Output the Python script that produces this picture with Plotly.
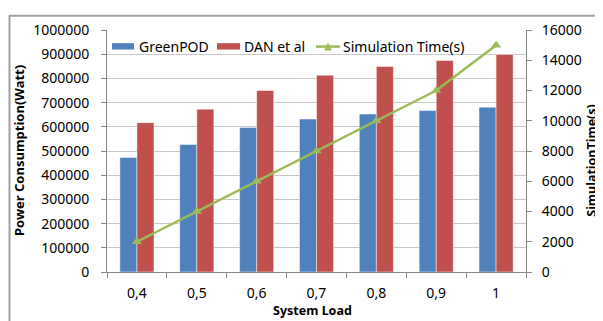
import plotly.graph_objects as go

categories = ["0,4", "0,5", "0,6", "0,7", "0,8", "0,9", "1"]
greenpod = [473000, 527000, 597000, 632000, 653000, 667000, 681000]
dan_et_al = [617000, 673000, 750000, 813000, 849000, 874000, 899000]
sim_time = [2000, 4000, 6000, 8000, 10000, 12000, 15000]
left_ticks = [0, 100000, 200000, 300000, 400000, 500000, 600000, 700000, 800000, 900000, 1000000]
right_ticks = [0, 2000, 4000, 6000, 8000, 10000, 12000, 14000, 16000]
series_names = ["GreenPOD", "DAN et al", "Simulation Time(s)"]

FONT = "Noto Sans"
BLUE = "#4F81BD"
RED = "#C0504D"
GREEN = "#9BBB59"
AXIS = "#868686"
GRID = "#c8c8c8"

# page offset of the figure div (default body margin)
OFF = 8
W, H = 603 - OFF, 321 - OFF
L, T = 107 - OFF, 24 - OFF
PW, PH = 419, 248
R = W - L - PW
B = H - T - PH


def px(x):  # page pixel x -> paper
    return (x - OFF - L) / PW


def py(y):  # page pixel y -> paper
    return (T + PH - (y - OFF)) / PH


fig = go.Figure()
fig.add_trace(go.Bar(x=categories, y=greenpod, name=series_names[0],
                     marker=dict(color=BLUE, line=dict(color="rgba(255,255,255,0.6)", width=0.8))))
fig.add_trace(go.Bar(x=categories, y=dan_et_al, name=series_names[1],
                     marker=dict(color=RED, line=dict(color="rgba(255,255,255,0.6)", width=0.8))))
fig.add_trace(go.Scatter(x=categories, y=sim_time, name=series_names[2], yaxis="y2",
                         mode="lines+markers",
                         line=dict(color=GREEN, width=2.5),
                         marker=dict(symbol="triangle-up", size=9, color=GREEN)))

fig.update_layout(
    width=W, height=H,
    margin=dict(l=L, r=R, t=T, b=B),
    paper_bgcolor="white", plot_bgcolor="white",
    font=dict(family=FONT, size=14, color="#000000"),
    barmode="group", bargap=0.43, bargroupgap=0,
    showlegend=False,
    xaxis=dict(type="category", showline=True, linecolor=AXIS, linewidth=1,
               ticks="outside", ticklen=5, tickcolor=AXIS, tickson="boundaries",
               ticklabelstandoff=8, showgrid=False, zeroline=False,
               range=[-0.5, 6.5]),
    yaxis=dict(range=[0, 1000000], tickvals=left_ticks,
               ticktext=[str(v) for v in left_ticks],
               showline=True, linecolor=AXIS, linewidth=1,
               ticks="outside", ticklen=5, tickcolor=AXIS, ticklabelstandoff=9,
               showgrid=True, gridcolor=GRID, gridwidth=1, zeroline=False),
    yaxis2=dict(range=[0, 16000], tickvals=right_ticks,
                ticktext=[str(v) for v in right_ticks],
                overlaying="y", side="right",
                showline=True, linecolor=AXIS, linewidth=1,
                ticks="outside", ticklen=5, tickcolor=AXIS, ticklabelstandoff=7,
                showgrid=False, zeroline=False),
)

# axis titles
fig.add_annotation(text="<b>Power Consumption(Watt)</b>", textangle=-90,
                   xref="paper", yref="paper", x=px(19), y=py(148),
                   xanchor="center", yanchor="middle", showarrow=False,
                   font=dict(family=FONT, size=13))
fig.add_annotation(text="<b>SimulationTime(s)</b>", textangle=-90,
                   xref="paper", yref="paper", x=px(592), y=py(158),
                   xanchor="center", yanchor="middle", showarrow=False,
                   font=dict(family=FONT, size=12.5))
fig.add_annotation(text="<b>System Load</b>",
                   xref="paper", yref="paper", x=px(312), y=py(311),
                   xanchor="center", yanchor="middle", showarrow=False,
                   font=dict(family=FONT, size=12.5))

# custom legend (Excel style)
leg_y = 41
fig.add_shape(type="rect", xref="paper", yref="paper",
              x0=px(112), x1=px(134), y0=py(44), y1=py(37.5),
              fillcolor=BLUE, line=dict(width=0))
fig.add_shape(type="rect", xref="paper", yref="paper",
              x0=px(217), x1=px(240), y0=py(44), y1=py(37.5),
              fillcolor=RED, line=dict(width=0))
fig.add_shape(type="line", xref="paper", yref="paper",
              x0=px(316), x1=px(340), y0=py(leg_y), y1=py(leg_y),
              line=dict(color=GREEN, width=2.5))
fig.add_shape(type="path", xref="paper", yref="paper",
              path=f"M {px(324)} {py(45)} L {px(332)} {py(45)} L {px(328)} {py(37)} Z",
              fillcolor=GREEN, line=dict(width=0))
for name, x0 in zip(series_names, [137, 242, 341]):
    fig.add_annotation(text=name, xref="paper", yref="paper",
                       x=px(x0), y=py(leg_y), xanchor="left", yanchor="middle",
                       showarrow=False, font=dict(family=FONT, size=14))

# outer chart border (as close to the page edge as the figure allows)
fig.add_shape(type="line", xref="paper", yref="paper",
              x0=px(OFF + 1.5), y0=py(330), x1=px(OFF + 1.5), y1=py(OFF + 1),
              line=dict(color="#a0a0a0", width=2), layer="above")
fig.add_shape(type="line", xref="paper", yref="paper",
              x0=px(OFF + 1), y0=py(OFF + 1.5), x1=px(640), y1=py(OFF + 1.5),
              line=dict(color="#a0a0a0", width=2), layer="above")

fig.write_html("out.html")
